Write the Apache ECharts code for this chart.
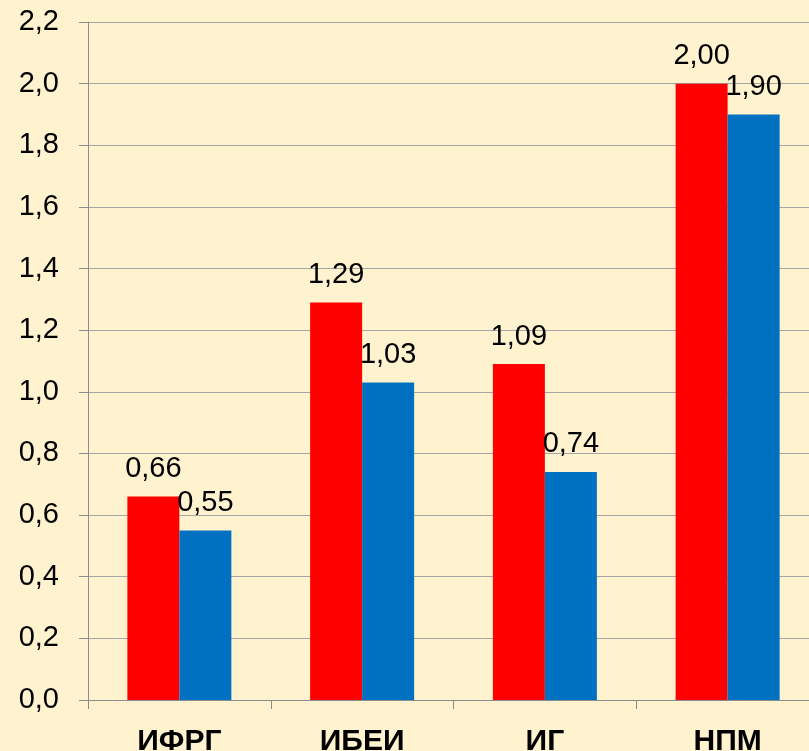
<!DOCTYPE html>
<html>
<head>
<meta charset="utf-8">
<script src="https://cdn.jsdelivr.net/npm/echarts@6/dist/echarts.min.js"></script>
<style>
  html, body { margin: 0; padding: 0; background: #fff2cf; }
  #chart { width: 809px; height: 751px; }
</style>
</head>
<body>
<div id="chart"></div>
<script>
// categories and values
const categories = ['ИФРГ', 'ИБЕИ', 'ИГ', 'НПМ']
const redValues = [0.66, 1.29, 1.09, 2.00]
const blueValues = [0.55, 1.03, 0.74, 1.90]

const fmt = v => v.toFixed(2).replace('.', ',')

const chart = echarts.init(document.getElementById('chart'))

const labelStyle = {
  show: true,
  position: 'top',
  distance: 13,
  fontFamily: 'Liberation Sans, Arial, sans-serif',
  fontSize: 29,
  color: '#000',
  formatter: p => fmt(p.value)
}

chart.setOption({
  backgroundColor: '#fff2cf',
  animation: false,
  grid: {
    left: 88,
    right: -10,
    top: 22,
    bottom: 51,
    outerBoundsMode: 'none'
  },
  xAxis: {
    type: 'category',
    data: categories,
    axisLine: { lineStyle: { color: '#8c8c8c', width: 1 } },
    axisTick: { show: true, length: 9, lineStyle: { color: '#8c8c8c' } },
    axisLabel: {
      margin: 27,
      fontFamily: 'Liberation Sans, Arial, sans-serif',
      fontSize: 30,
      fontWeight: 'bold',
      color: '#000'
    }
  },
  yAxis: {
    type: 'value',
    min: 0,
    max: 2.2,
    interval: 0.2,
    axisLine: { show: true, lineStyle: { color: '#8c8c8c', width: 1 } },
    axisTick: { show: true, length: 9, lineStyle: { color: '#8c8c8c' } },
    splitLine: { lineStyle: { color: '#a6a6a6', width: 1 } },
    axisLabel: {
      margin: 29,
      fontFamily: 'Liberation Sans, Arial, sans-serif',
      fontSize: 29,
      color: '#000',
      formatter: v => v.toFixed(1).replace('.', ',')
    }
  },
  series: [
    {
      type: 'bar',
      data: redValues,
      barWidth: 52,
      barGap: '0%',
      itemStyle: { color: '#ff0000' },
      label: labelStyle
    },
    {
      type: 'bar',
      data: blueValues,
      barWidth: 52,
      itemStyle: { color: '#0070c0' },
      label: labelStyle
    }
  ]
})
</script>
</body>
</html>
